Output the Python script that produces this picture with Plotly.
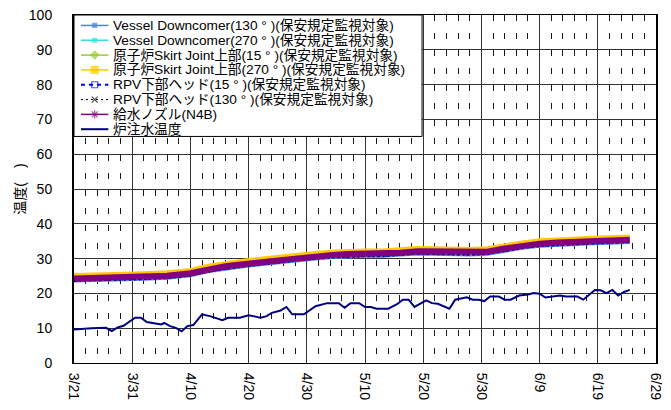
import plotly.graph_objects as go

# ---------------------------------------------------------------- data
band_dates = [
    "2012-03-21", "2012-03-25", "2012-03-29", "2012-04-02", "2012-04-06",
    "2012-04-10", "2012-04-13", "2012-04-16", "2012-04-19", "2012-04-22",
    "2012-04-25", "2012-04-28", "2012-05-01", "2012-05-04", "2012-05-07",
    "2012-05-10", "2012-05-13", "2012-05-16", "2012-05-19", "2012-05-22",
    "2012-05-25", "2012-05-28", "2012-05-31", "2012-06-03", "2012-06-06",
    "2012-06-09", "2012-06-12", "2012-06-15", "2012-06-18", "2012-06-21",
    "2012-06-24 12:00",
]

vessel_dc_130 = [23.4, 23.5, 23.7, 23.9, 24.2, 24.9, 26.1, 26.9, 27.5, 28.1,
                 28.7, 29.2, 29.7, 30.1, 30.4, 30.5, 30.5, 30.8, 31.2, 31.1,
                 30.9, 30.9, 31.1, 32.0, 32.8, 33.4, 33.7, 33.9, 34.1, 34.3, 34.5]
vessel_dc_270 = [23.9, 24.0, 24.2, 24.4, 24.7, 25.4, 26.6, 27.4, 28.0, 28.6,
                 29.2, 29.7, 30.2, 30.6, 30.9, 31.0, 31.0, 31.3, 31.7, 31.6,
                 31.4, 31.4, 31.6, 32.5, 33.3, 33.9, 34.2, 34.4, 34.6, 34.8, 35.0]
skirt_15 = [24.8, 24.9, 25.1, 25.3, 25.6, 26.3, 27.5, 28.3, 28.9, 29.5,
            30.1, 30.6, 31.1, 31.5, 31.8, 31.9, 31.9, 32.2, 32.6, 32.5,
            32.3, 32.3, 32.5, 33.4, 34.2, 34.8, 35.1, 35.3, 35.5, 35.7, 35.9]
skirt_270 = [25.4, 25.5, 25.7, 25.9, 26.2, 26.9, 28.1, 28.9, 29.5, 30.1,
             30.7, 31.2, 31.7, 32.1, 32.4, 32.5, 32.5, 32.8, 33.2, 33.1,
             32.9, 32.9, 33.1, 34.0, 34.8, 35.4, 35.7, 35.9, 36.1, 36.3, 36.5]
rpv_bottom_15 = [23.7, 23.8, 24.0, 24.2, 24.5, 25.2, 26.4, 27.2, 27.8, 28.4,
                 29.0, 29.5, 30.0, 30.4, 30.7, 30.8, 30.8, 31.1, 31.5, 31.4,
                 31.2, 31.2, 31.4, 32.3, 33.1, 33.7, 34.0, 34.2, 34.4, 34.6, 34.8]
rpv_bottom_130 = [23.6, 23.7, 23.9, 24.1, 24.4, 25.1, 26.3, 27.1, 27.7, 28.3,
                  28.9, 29.4, 29.9, 30.3, 30.6, 30.7, 30.7, 31.0, 31.4, 31.3,
                  31.1, 31.1, 31.3, 32.2, 33.0, 33.6, 33.9, 34.1, 34.3, 34.5, 34.7]
feedwater_n4b = [24.3, 24.4, 24.6, 24.8, 25.1, 25.8, 27.0, 27.8, 28.4, 29.0,
                 29.6, 30.1, 30.6, 31.0, 31.3, 31.4, 31.4, 31.7, 32.1, 32.0,
                 31.8, 31.8, 32.0, 32.9, 33.7, 34.3, 34.6, 34.8, 35.0, 35.2, 35.4]

injection_dates = [
    "2012-03-21", "2012-03-24", "2012-03-26 12:00", "2012-03-27 12:00",
    "2012-03-28 12:00", "2012-03-29 12:00", "2012-03-31 12:00", "2012-04-01 12:00",
    "2012-04-02 12:00", "2012-04-04", "2012-04-05", "2012-04-05 12:00",
    "2012-04-06 12:00", "2012-04-07 12:00", "2012-04-08 12:00", "2012-04-09 12:00",
    "2012-04-10 12:00", "2012-04-12", "2012-04-13 12:00", "2012-04-15 12:00",
    "2012-04-16 12:00", "2012-04-18 12:00", "2012-04-20", "2012-04-21",
    "2012-04-22", "2012-04-23", "2012-04-24", "2012-04-25 12:00",
    "2012-04-26 12:00", "2012-04-27 12:00", "2012-04-29 12:00", "2012-05-01 12:00",
    "2012-05-03 12:00", "2012-05-05 12:00", "2012-05-06 12:00", "2012-05-07 12:00",
    "2012-05-09", "2012-05-10", "2012-05-11", "2012-05-12",
    "2012-05-14", "2012-05-15 12:00", "2012-05-16 12:00", "2012-05-17 12:00",
    "2012-05-18 12:00", "2012-05-20 12:00", "2012-05-21 12:00", "2012-05-22 12:00",
    "2012-05-24 12:00", "2012-05-25 12:00", "2012-05-27 12:00", "2012-05-28 12:00",
    "2012-05-29 12:00", "2012-05-30 12:00", "2012-05-31 12:00", "2012-06-02",
    "2012-06-03", "2012-06-04", "2012-06-05 12:00", "2012-06-07",
    "2012-06-08", "2012-06-09", "2012-06-10", "2012-06-12 12:00",
    "2012-06-13 12:00", "2012-06-15 12:00", "2012-06-16 12:00", "2012-06-18 12:00",
    "2012-06-19 12:00", "2012-06-20 12:00", "2012-06-21 12:00", "2012-06-22 12:00",
    "2012-06-23 12:00", "2012-06-24 12:00",
]
injection_temp = [
    9.6, 10.0, 10.1, 9.2, 10.2, 10.7, 13.0, 13.0,
    11.8, 11.5, 11.1, 11.5, 10.6, 10.1, 9.1, 10.6,
    10.9, 14.0, 13.4, 12.3, 13.0, 13.0, 13.7, 13.4,
    13.0, 13.4, 14.4, 15.1, 16.1, 14.0, 14.0, 16.3,
    17.2, 17.2, 15.9, 17.2, 17.2, 16.1, 16.1, 15.6,
    15.6, 16.9, 18.2, 18.2, 16.1, 18.0, 17.2, 17.0,
    15.6, 18.2, 18.9, 18.2, 18.2, 17.8, 19.1, 19.1,
    18.2, 18.2, 19.4, 19.7, 20.1, 19.9, 18.8, 19.4,
    19.1, 19.1, 18.2, 21.0, 20.9, 20.1, 21.0, 19.4,
    20.4, 21.0,
]

x_tick_dates = ["2012-03-21", "2012-03-31", "2012-04-10", "2012-04-20", "2012-04-30",
                "2012-05-10", "2012-05-20", "2012-05-30", "2012-06-09", "2012-06-19",
                "2012-06-29"]
x_tick_labels = ["3/21", "3/31", "4/10", "4/20", "4/30", "5/10", "5/20", "5/30",
                 "6/9", "6/19", "6/29"]

series_names = [
    "Vessel Downcomer(130 ° )(保安規定監視対象)",
    "Vessel Downcomer(270 ° )(保安規定監視対象)",
    "原子炉Skirt Joint上部(15 ° )(保安規定監視対象)",
    "原子炉Skirt Joint上部(270 ° )(保安規定監視対象)",
    "RPV下部ヘッド(15 ° )(保安規定監視対象)",
    "RPV下部ヘッド(130 ° )(保安規定監視対象)",
    "給水ノズル(N4B)",
    "炉注水温度",
]
series_x = [band_dates] * 7 + [injection_dates]
series_y = [vessel_dc_130, vessel_dc_270, skirt_15, skirt_270,
            rpv_bottom_15, rpv_bottom_130, feedwater_n4b, injection_temp]

# ---------------------------------------------------------------- styles
colors = ["#4F7DF2", "#3FD9CF", "#99CC33", "#FFC800",
          "#0000FF", "#000000", "#800080", "#000080"]
widths = [2, 2, 2, 3, 2, 2, 6, 2]
key_widths = [1.5, 1.5, 1.5, 1.5, 2, 1, 1.5, 2]
dashes = ["solid", "solid", "solid", "solid", "4px,4px", "2px,3px", "solid", "solid"]
symbols = ["square", "square", "diamond", "square", "square-open",
           "x-thin-open", "asterisk-open", "circle"]
marker_sizes = [4, 4, 6, 7, 6, 6, 7, 0]

FONT = "Arial, 'Liberation Sans', 'Noto Sans CJK JP', sans-serif"

fig = go.Figure()

# data traces
for name, xs, ys, c, w, d in zip(series_names, series_x, series_y, colors, widths, dashes):
    fig.add_trace(go.Scatter(
        x=xs, y=ys, name=name, mode="lines",
        line=dict(color=c, width=w, dash=d if w < 3 else "solid"),
        showlegend=False, hoverinfo="x+y+name",
    ))

# legend panel drawn on an overlaid unit axis pair (sits above the grid)
box_x0, box_x1, box_y0, box_y1 = 0.0, 0.598, 0.651, 1.0
fig.add_trace(go.Scatter(
    x=[box_x0, box_x1, box_x1, box_x0, box_x0],
    y=[box_y0, box_y0, box_y1, box_y1, box_y0],
    xaxis="x2", yaxis="y2", mode="lines", fill="toself",
    fillcolor="white", line=dict(color="black", width=1),
    showlegend=False, hoverinfo="skip",
))

row_top, row_step = 0.970, 0.0426
key_x = [0.012, 0.0356, 0.059]
for i, (name, c, kw, d, s, ms) in enumerate(zip(series_names, colors, key_widths,
                                               dashes, symbols, marker_sizes)):
    yrow = row_top - i * row_step
    fig.add_trace(go.Scatter(
        x=key_x, y=[yrow] * 3, xaxis="x2", yaxis="y2", mode="lines+markers",
        line=dict(color=c, width=kw, dash=d),
        marker=dict(symbol=s, size=[0, ms, 0], color=c,
                    line=dict(color=c, width=1.2)),
        showlegend=False, hoverinfo="skip",
    ))
    fig.add_annotation(
        x=0.064, y=yrow, xref="paper", yref="paper", text=name,
        showarrow=False, xanchor="left", yanchor="middle",
        font=dict(family=FONT, size=13.7, color="#000"),
    )

fig.update_layout(
    width=671, height=410,
    margin=dict(l=74, r=7, t=13, b=47),
    paper_bgcolor="white", plot_bgcolor="white",
    font=dict(family=FONT, size=14, color="#000"),
    showlegend=False,
    xaxis=dict(
        type="date", range=["2012-03-21", "2012-06-29"],
        tickmode="array", tickvals=x_tick_dates, ticktext=x_tick_labels,
        tickangle=90, ticks="", ticklabelstandoff=6, ticklabeloverflow="allow",
        showgrid=True, gridcolor="#333333", gridwidth=1,
        minor=dict(tickmode="linear", tick0="2012-03-21", dtick=2 * 86400000,
                   showgrid=True, gridcolor="#1a1a1a", gridwidth=1,
                   griddash="6px,11.5px", ticks=""),
        showline=True, linecolor="black", linewidth=1, mirror=True,
        zeroline=False, tickfont=dict(size=14),
    ),
    yaxis=dict(
        range=[0, 100], dtick=10, tick0=0,
        ticks="", ticklabelstandoff=17,
        showgrid=True, gridcolor="#333333", gridwidth=1,
        showline=True, linecolor="black", linewidth=2, mirror=True,
        zeroline=False, tickfont=dict(size=14),
        title=dict(text="温度(　)", font=dict(size=14), standoff=0),
    ),
    xaxis2=dict(overlaying="x", anchor="y2", range=[0, 1], visible=False,
                showgrid=False, zeroline=False),
    yaxis2=dict(overlaying="y", anchor="x2", range=[0, 1], visible=False,
                showgrid=False, zeroline=False),
)

fig.write_html("out.html")
